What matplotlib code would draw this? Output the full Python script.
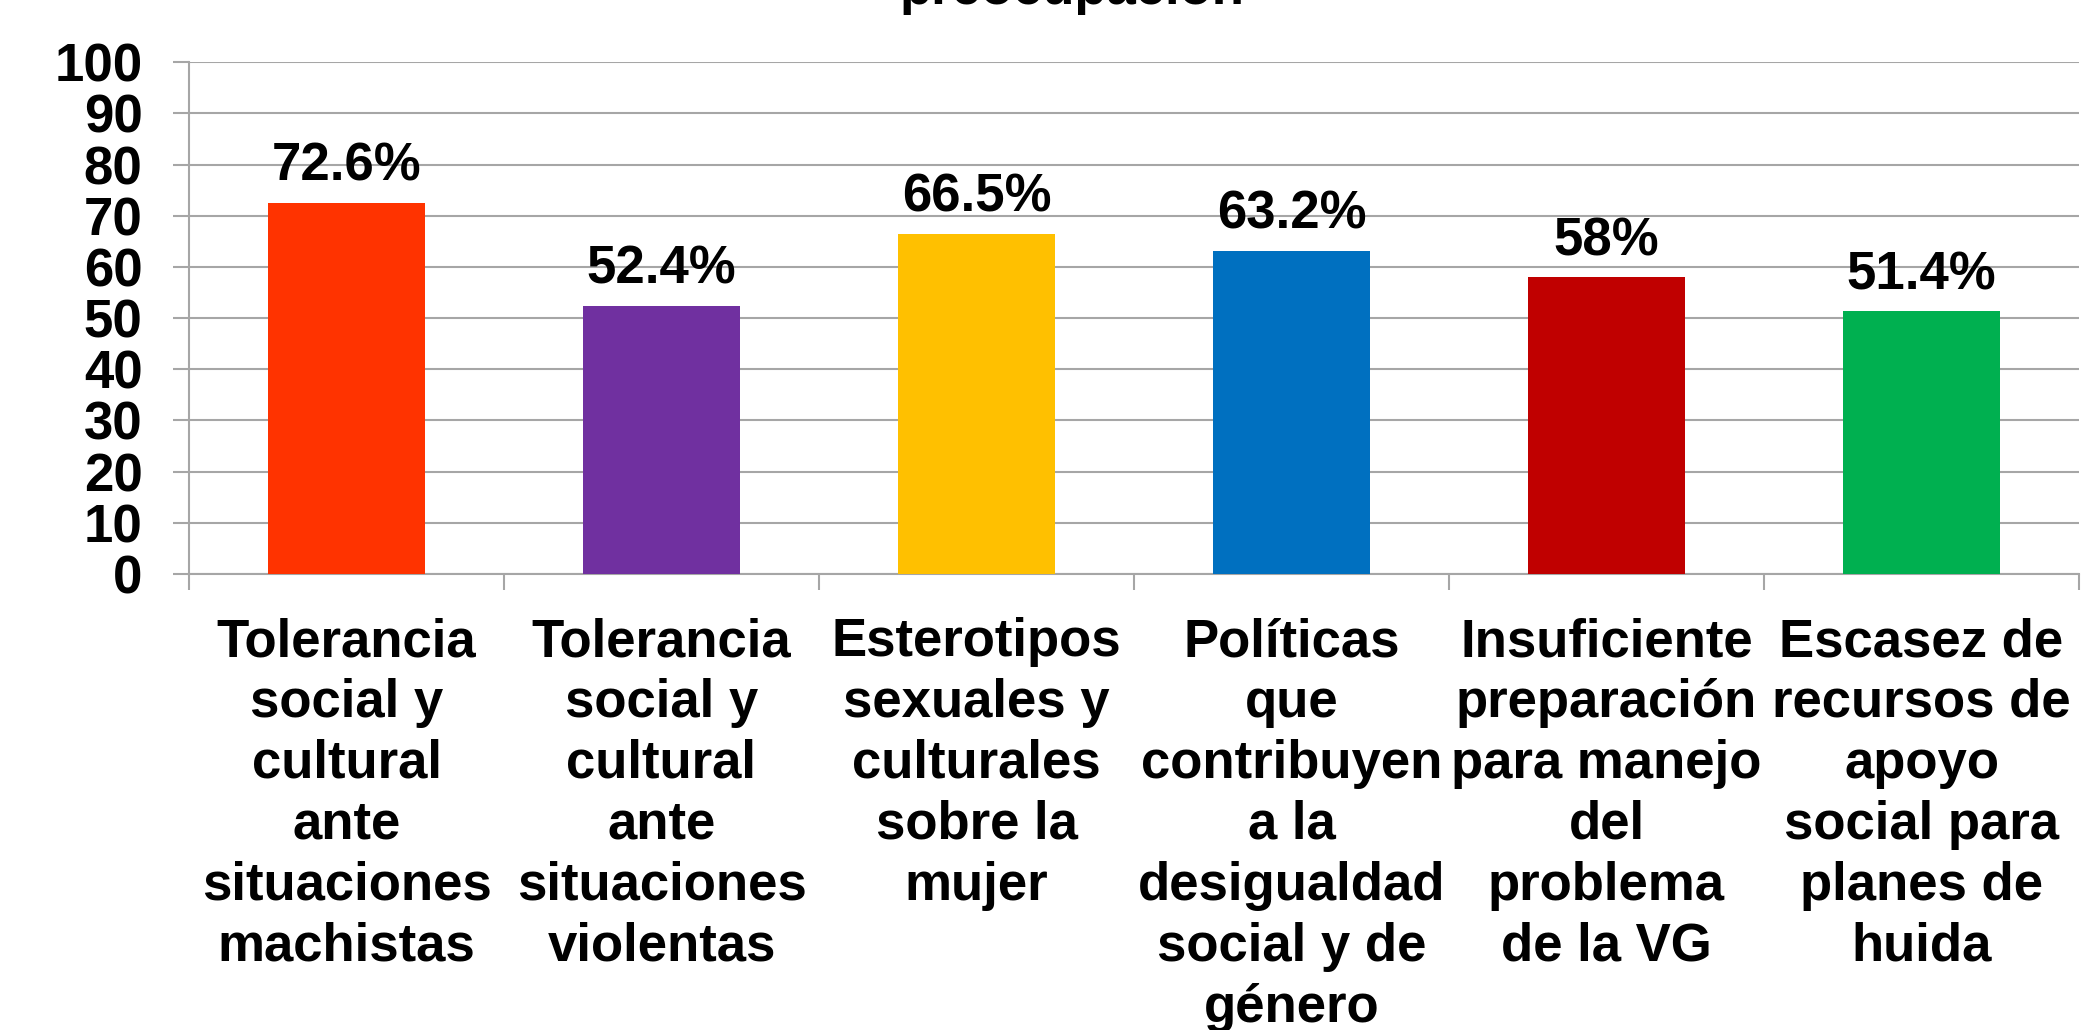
import matplotlib
matplotlib.use("Agg")
import matplotlib.pyplot as plt
from matplotlib.ticker import MultipleLocator, FixedLocator

plt.rcParams['font.family'] = ['Liberation Sans', 'DejaVu Sans']
plt.rcParams['font.weight'] = 'bold'

categories = [
    "Tolerancia\nsocial y\ncultural\nante\nsituaciones\nmachistas",
    "Tolerancia\nsocial y\ncultural\nante\nsituaciones\nviolentas",
    "Esterotipos\nsexuales y\nculturales\nsobre la\nmujer",
    "Políticas\nque\ncontribuyen\na la\ndesigualdad\nsocial y de\ngénero",
    "Insuficiente\npreparación\npara manejo\ndel\nproblema\nde la VG",
    "Escasez de\nrecursos de\napoyo\nsocial para\nplanes de\nhuida",
]
values = [72.6, 52.4, 66.5, 63.2, 58, 51.4]
value_labels = ["72.6%", "52.4%", "66.5%", "63.2%", "58%", "51.4%"]
colors = ["#FF3300", "#7030A0", "#FFC000", "#0070C0", "#C00000", "#00B050"]
title_text = "preocupación"

W, H = 2098, 1030
fig = plt.figure(figsize=(W / 100, H / 100), dpi=100)
ax = fig.add_axes([189 / W, 1 - 574 / H, (2079 - 189) / W, (574 - 62.3) / H])

grid_c = "#A6A6A6"
x = list(range(len(values)))
ax.bar(x, values, width=0.5, color=colors, zorder=3)

ax.set_xlim(-0.5, len(values) - 0.5)
ax.set_ylim(0, 100)
ax.yaxis.set_major_locator(MultipleLocator(10))
ax.grid(axis='y', color=grid_c, linewidth=1.5, zorder=0)
ax.set_axisbelow(True)

for s in ['top', 'right']:
    ax.spines[s].set_visible(False)
for s in ['left', 'bottom']:
    ax.spines[s].set_color(grid_c)
    ax.spines[s].set_linewidth(1.5)

fs = 38
ax.tick_params(axis='y', direction='out', length=11.5, width=1.5, color=grid_c,
               pad=22, labelsize=fs)
for lab in ax.get_yticklabels():
    lab.set_fontweight('bold')

ax.set_xticks(x)
ax.set_xticklabels(categories, fontsize=fs, fontweight='bold', linespacing=1.28,
                   ha='center', va='top', multialignment='center')
ax.tick_params(axis='x', which='major', length=0, pad=31)
ax.xaxis.set_minor_locator(FixedLocator([i - 0.5 for i in range(len(values) + 1)]))
ax.tick_params(axis='x', which='minor', direction='out', length=11.5, width=1.5,
               color=grid_c)

for xi, v, lab in zip(x, values, value_labels):
    ax.annotate(lab, (xi, v), xytext=(0, 15.8), textcoords='offset points',
                ha='center', va='baseline', fontsize=fs, fontweight='bold', color='black')

fig.text(1072 / W, 1 - 4 / H, title_text, ha='center', va='baseline',
         fontsize=fs, fontweight='bold')

fig.savefig("out.png", dpi=100)
